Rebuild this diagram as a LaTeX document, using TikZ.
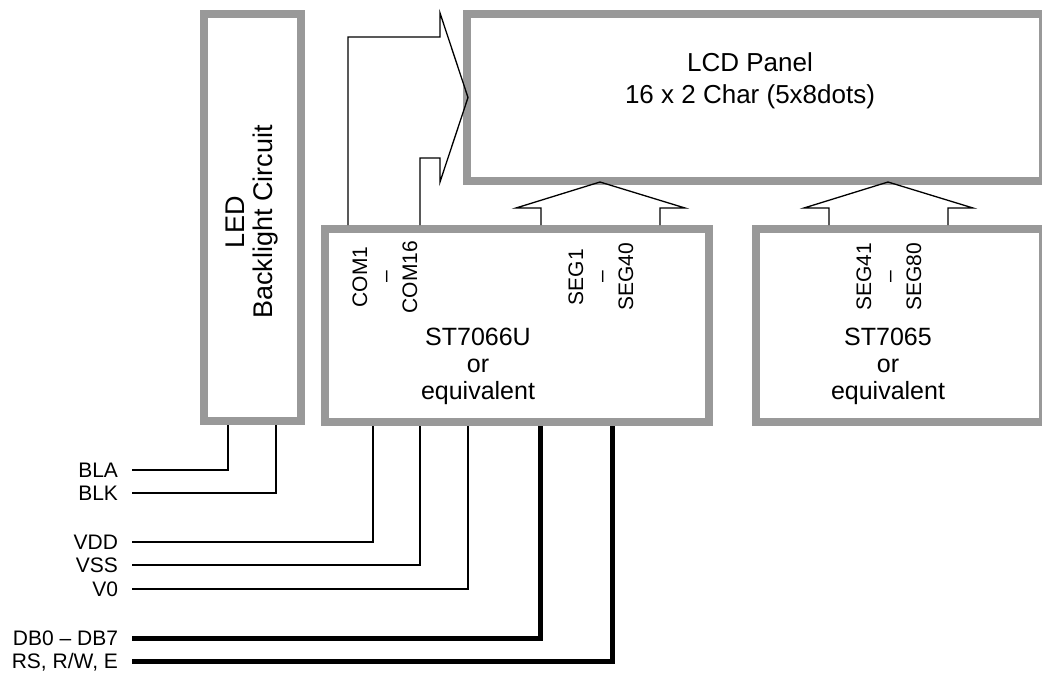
\documentclass[tikz,border=0pt]{standalone}
\usepackage{fontspec}
\setmainfont{Liberation Sans}
\usetikzlibrary{positioning}
\definecolor{boxgray}{HTML}{999999}

\begin{document}
\begin{tikzpicture}[x=1pt,y=-1pt,
  blk/.style={draw=boxgray, line width=8pt, rectangle, inner sep=0pt},
  wire/.style={line width=1.3pt},
  bus/.style={line width=5pt},
  sig/.style={anchor=east, inner sep=0pt, outer xsep=14pt, text height=15pt, text depth=0pt, font=\fontsize{21}{24}\selectfont},
  pin/.style={rotate=90, align=center, font=\fontsize{21}{25}\selectfont},
  big/.style={align=center, font=\fontsize{25}{27}\selectfont}]
  \useasboundingbox (0,0) rectangle (1042,675);

  \node[blk, minimum width=97pt, minimum height=407pt] (led) at (252.5,217.5) {};
  \node[blk, minimum width=576pt, minimum height=167pt] (lcd) at (755,97.5) {};
  \node[blk, minimum width=384pt, minimum height=193pt] (drv) at (517,325.5) {};
  \node[blk, minimum width=287pt, minimum height=193pt] (ext) at (899.5,325.5) {};

  \node[big, font=\fontsize{26}{32}\selectfont] (lcdtxt) at (750,81) {LCD Panel\\16 x 2 Char (5x8dots)};
  \node[big, rotate=90, font=\fontsize{27}{28}\selectfont] (ledtxt) at (252,222) {LED\\Backlight Circuit};
  \node[big] (drvtxt) at (478,366) {ST7066U\\or\\equivalent};
  \node[big] (exttxt) at (888,366) {ST7065\\or\\equivalent};

  \node[pin] (com) at (385,277) {COM1\\\textendash\\COM16};
  \node[pin] (segl) at (601,277) {SEG1\\\textendash\\SEG40};
  \node[pin] (segr) at (889,277) {SEG41\\\textendash\\SEG80};

  \node[sig] (bla) at (132,470) {BLA};
  \node[sig] (blk) at (132,493) {BLK};
  \node[sig] (vdd) at (132,542) {VDD};
  \node[sig] (vss) at (132,565) {VSS};
  \node[sig] (vo) at (132,589) {V0};
  \node[sig] (db) at (132,638) {DB0 \textendash\ DB7};
  \node[sig] (ctl) at (132,661) {RS, R/W, E};

  \draw[wire] (bla.east) -| ([xshift=-24.5pt]led.south);
  \draw[wire] (blk.east) -| ([xshift=23.5pt]led.south);
  \draw[wire] (vdd.east) -| ([xshift=-144pt]drv.south);
  \draw[wire] (vss.east) -| ([xshift=-97pt]drv.south);
  \draw[wire] (vo.east) -| ([xshift=-49pt]drv.south);
  \draw[bus] (db.east) -| ([xshift=23pt]drv.south);
  \draw[bus] (ctl.east) -| ([xshift=95pt]drv.south);

  \draw[wire] ([xshift=-169pt]drv.north) |- (440,37) -- (440,13) -- ([xshift=5pt]lcd.west)
    -- (440,182) -- (440,158) -| ([xshift=-97pt]drv.north);
  \draw[wire] ([xshift=24pt]drv.north) -- ++(0,-17) -- ++(-25,0) -- ([xshift=-155pt,yshift=3pt]lcd.south)
    -- ++(85,26) -- ++(-25,0) -- ([xshift=143pt]drv.north);
  \draw[wire] ([xshift=-70.5pt]ext.north) -- ++(0,-17) -- ++(-25,0) -- ([xshift=133pt,yshift=3pt]lcd.south)
    -- ++(85,26) -- ++(-25,0) -- ([xshift=48.5pt]ext.north);
\end{tikzpicture}
\end{document}
